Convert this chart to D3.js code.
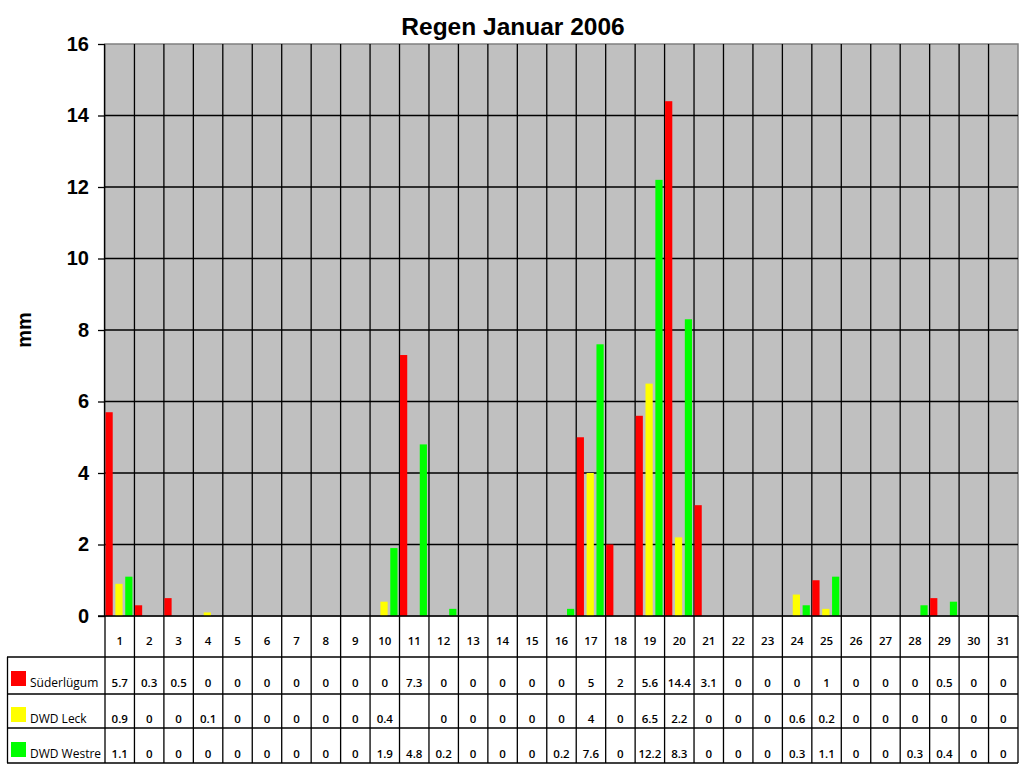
<!DOCTYPE html>
<html><head><meta charset="utf-8">
<script src="https://cdn.jsdelivr.net/npm/d3@7/dist/d3.min.js"></script>
<style>body{margin:0;background:#fff}svg{display:block}</style>
</head><body>
<svg id="c" width="1024" height="768"></svg>
<script>
const days = d3.range(1, 32).map(String);
const seriesNames = ["Süderlügum", "DWD Leck", "DWD Westre"];
const seriesColors = ["#ff0000", "#ffff00", "#00ff00"];
const suederluegum = [5.7,0.3,0.5,0,0,0,0,0,0,0,7.3,0,0,0,0,0,5,2,5.6,14.4,3.1,0,0,0,1,0,0,0,0.5,0,0];
const dwdLeck =      [0.9,0,0,0.1,0,0,0,0,0,0.4,null,0,0,0,0,0,4,0,6.5,2.2,0,0,0,0.6,0.2,0,0,0,0,0,0];
const dwdWestre =    [1.1,0,0,0,0,0,0,0,0,1.9,4.8,0.2,0,0,0,0.2,7.6,0,12.2,8.3,0,0,0,0.3,1.1,0,0,0.3,0.4,0,0];
const yTicks = [0,2,4,6,8,10,12,14,16];
const title = "Regen Januar 2006";
const yLabel = "mm";

const series = [suederluegum, dwdLeck, dwdWestre];
const svg = d3.select("#c");
const L = 105, R = 1018, T = 44, B = 616;
const x = d3.scaleBand().domain(days).range([L, R]).padding(0);
const y = d3.scaleLinear().domain([0, 16]).range([B, T]);
const bw = x.bandwidth();

// plot background
svg.append("rect").attr("x", L).attr("y", T).attr("width", R - L).attr("height", B - T)
  .attr("fill", "#c0c0c0").attr("stroke", "#808080").attr("stroke-width", 1.5);

// horizontal grid
svg.append("g").selectAll("line").data(yTicks.filter(d => d > 0 && d < 16)).join("line")
  .attr("x1", L).attr("x2", R).attr("y1", d => y(d)).attr("y2", d => y(d))
  .attr("stroke", "#000").attr("stroke-width", 1.3);

// vertical separators in plot + table
svg.append("g").selectAll("line").data(days.slice(1)).join("line")
  .attr("x1", d => x(d)).attr("x2", d => x(d)).attr("y1", T).attr("y2", 763)
  .attr("stroke", "#000").attr("stroke-width", 1.3);

// bars
series.forEach((s, i) => {
  svg.append("g").selectAll("rect").data(s.map((v, j) => ({day: days[j], v})).filter(d => d.v != null && d.v > 0))
    .join("rect")
    .attr("x", d => x(d.day) + i * bw * 0.335 + 0.5)
    .attr("width", bw * 0.245)
    .attr("y", d => y(d.v))
    .attr("height", d => B - y(d.v))
    .attr("fill", seriesColors[i]);
});

// y axis
const yAxis = d3.axisLeft(y).tickValues(yTicks).tickSize(7).tickPadding(9);
const ga = svg.append("g").attr("transform", `translate(${L},0)`).call(yAxis);
ga.select(".domain").attr("stroke", "#000").attr("stroke-width", 1.3).attr("d", `M-0.5,${T}V${B}`);
ga.selectAll(".tick line").attr("stroke", "#000").attr("stroke-width", 1.3);
ga.selectAll(".tick text").attr("font-family", "Liberation Sans, Arial, sans-serif")
  .attr("font-size", 20).attr("font-weight", "bold").attr("fill", "#000");

// x axis baseline
svg.append("line").attr("x1", 98).attr("x2", R).attr("y1", B).attr("y2", B).attr("stroke", "#000").attr("stroke-width", 1.5);

// title and y label
svg.append("text").attr("x", 513).attr("y", 35).attr("text-anchor", "middle")
  .attr("font-family", "Liberation Sans, Arial, sans-serif").attr("font-size", 24.5).attr("font-weight", "bold").text(title);
svg.append("text").attr("transform", "translate(31,330) rotate(-90)").attr("text-anchor", "middle")
  .attr("font-family", "Liberation Sans, Arial, sans-serif").attr("font-size", 20).attr("font-weight", "bold").text(yLabel);

// data table
const rowLines = [657, 694, 728, 763];
const tbl = svg.append("g").attr("stroke", "#000").attr("stroke-width", 1.3);
rowLines.forEach(yy => tbl.append("line").attr("x1", 7).attr("x2", R).attr("y1", yy).attr("y2", yy));
tbl.append("line").attr("x1", 7.5).attr("x2", 7.5).attr("y1", 657).attr("y2", 763);
tbl.append("line").attr("x1", L).attr("x2", L).attr("y1", B).attr("y2", 763);
tbl.append("line").attr("x1", R).attr("x2", R).attr("y1", B).attr("y2", 763);

const tf = "Open Sans, Noto Sans, sans-serif";
svg.append("g").selectAll("text").data(days).join("text")
  .attr("x", d => x(d) + bw / 2).attr("y", 645).attr("text-anchor", "middle")
  .attr("font-family", tf).attr("font-size", 11.5).attr("font-weight", 600).text(d => d);

const baselines = [687, 723, 758];
series.forEach((s, i) => {
  svg.append("g").selectAll("text").data(s.map((v, j) => ({day: days[j], v}))).join("text")
    .attr("x", d => x(d.day) + bw / 2).attr("y", baselines[i]).attr("text-anchor", "middle")
    .attr("font-family", tf).attr("font-size", 11.5).attr("font-weight", 600)
    .text(d => d.v == null ? "" : String(d.v));
  svg.append("rect").attr("x", 11).attr("y", baselines[i] - 16).attr("width", 15).attr("height", 15).attr("fill", seriesColors[i]);
  svg.append("text").attr("x", 30).attr("y", baselines[i]).attr("font-family", tf).attr("font-size", 12)
    .attr("font-weight", 500).text(seriesNames[i]);
});
</script>
</body></html>
